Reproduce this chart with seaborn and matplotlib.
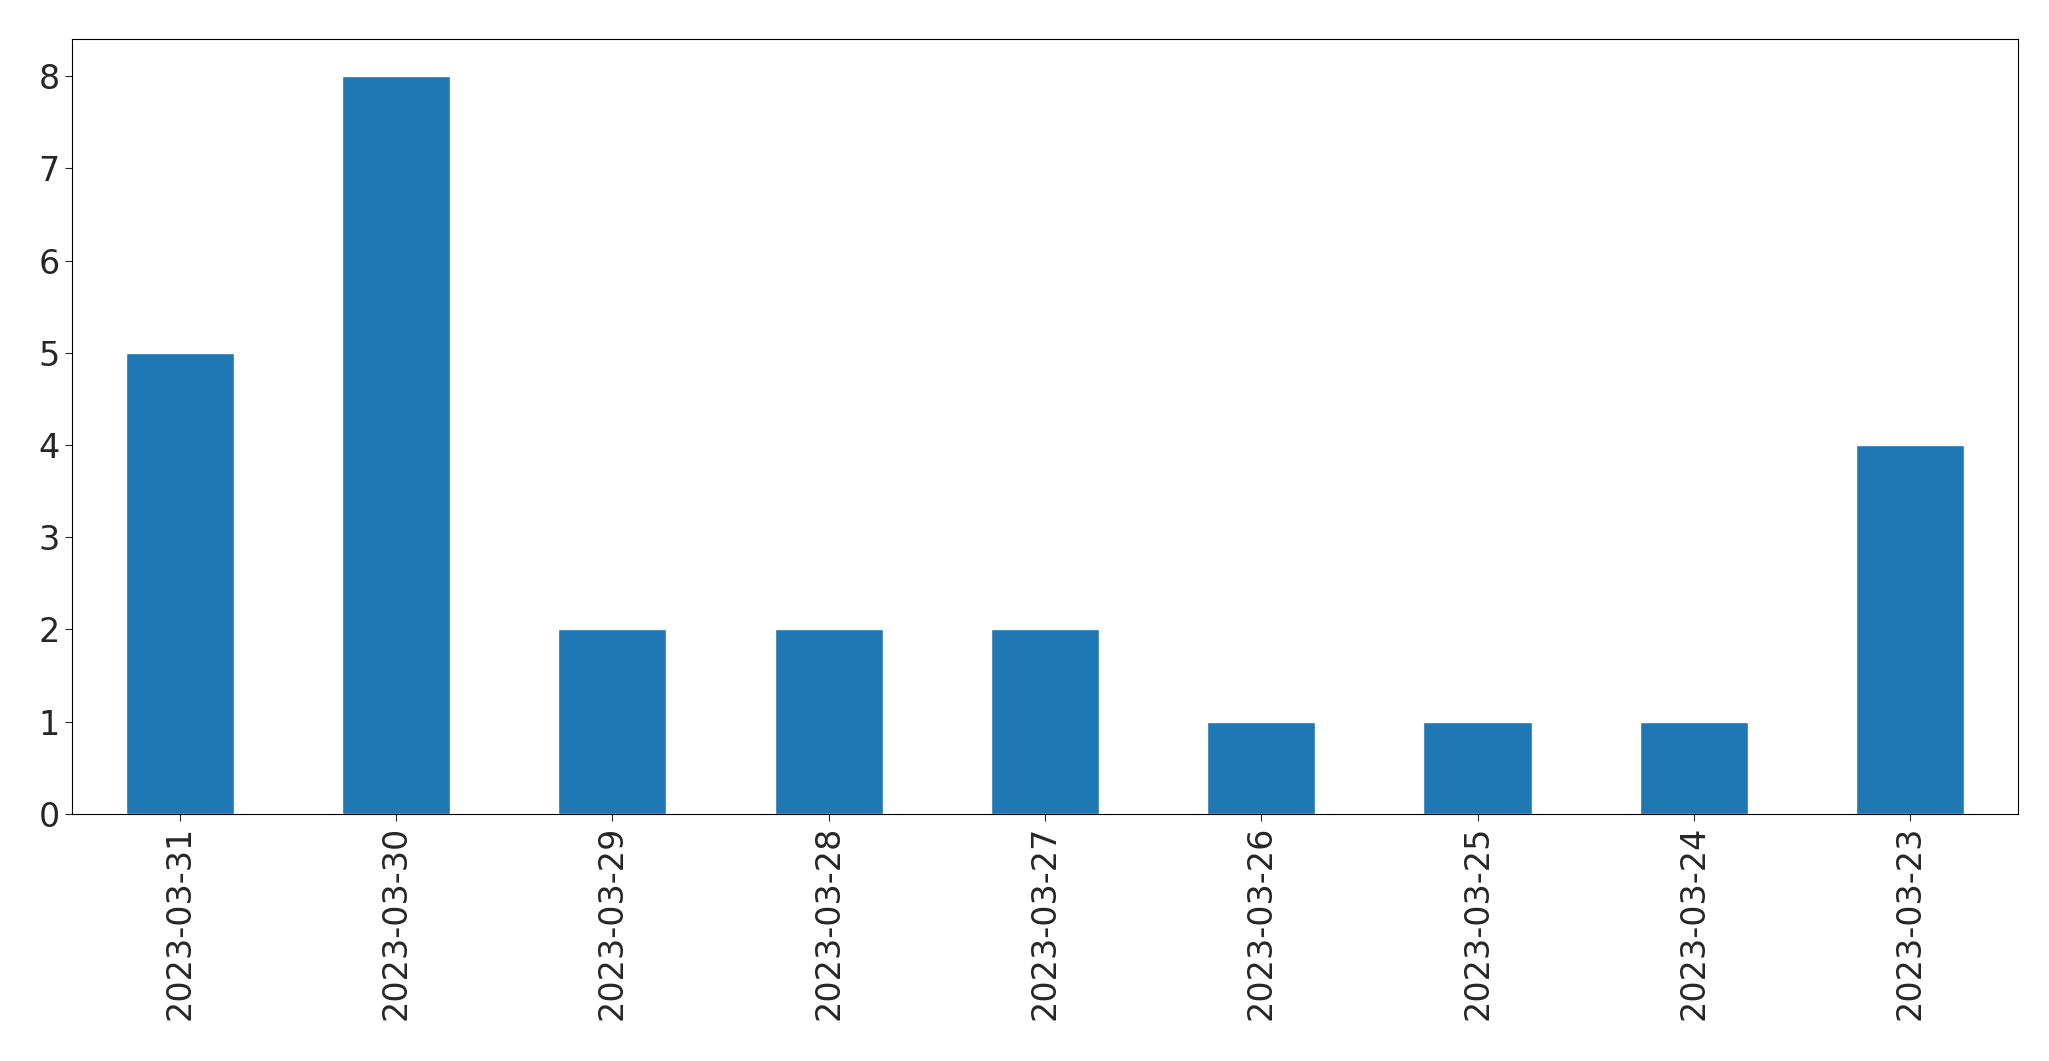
import matplotlib
matplotlib.use("Agg")
import matplotlib.pyplot as plt
import seaborn as sns
import pandas as pd

dates = ["2023-03-31", "2023-03-30", "2023-03-29", "2023-03-28", "2023-03-27",
         "2023-03-26", "2023-03-25", "2023-03-24", "2023-03-23"]
counts = [5, 8, 2, 2, 2, 1, 1, 1, 4]

df = pd.DataFrame({"date": dates, "count": counts})

sns.set_style("ticks")
fig = plt.figure(figsize=(20.49, 10.61), dpi=100)
ax = fig.add_axes([0.035, 0.233, 0.95, 0.73])
sns.barplot(data=df, x="date", y="count", color="#1f77b4", saturation=1, width=0.5, ax=ax)
ax.set_xlim(-0.5, len(dates) - 0.5)
ax.set_ylim(0, 8.4)
ax.set_xlabel("")
ax.set_ylabel("")
ax.tick_params(axis="both", labelsize=24, length=5)
plt.setp(ax.get_xticklabels(), rotation=90)
for s in ax.spines.values():
    s.set_visible(True)
    s.set_color("black")
fig.savefig("out.png", dpi=100)
